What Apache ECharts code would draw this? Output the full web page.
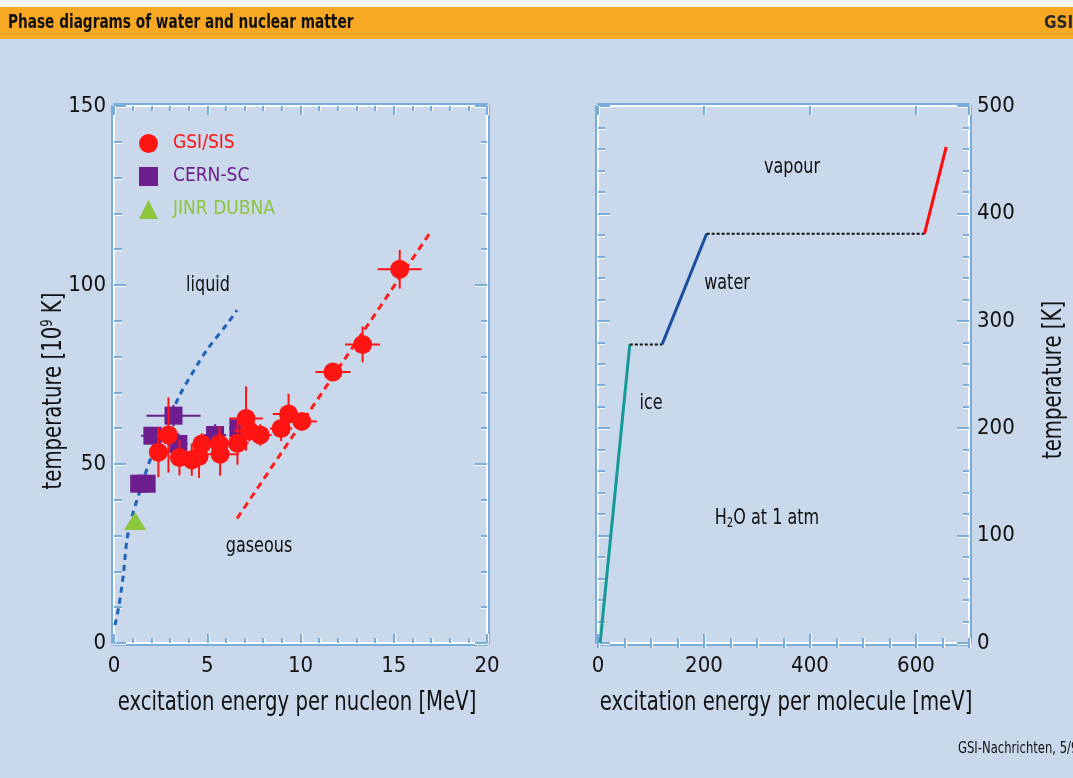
<!DOCTYPE html>
<html>
<head>
<meta charset="utf-8">
<title>Phase diagrams of water and nuclear matter</title>
<script src="https://cdn.jsdelivr.net/npm/echarts@6/dist/echarts.min.js"></script>
<style>
  html, body { margin: 0; padding: 0; background: #c9d8ea; }
  #chart { width: 1073px; height: 778px; }
</style>
</head>
<body>
<div id="chart"></div>
<script>
// ---- nuclear matter: excitation energy per nucleon [MeV] vs temperature [10^9 K]
// each point: [energy, temperature, energy error, temperature error]
const gsiSis = [
  [2.38, 53.3, 0.4, 7.0],
  [2.92, 58.1, 0.3, 10.5],
  [3.51, 51.8, 0.5, 5.0],
  [4.17, 51.2, 0.4, 4.5],
  [4.56, 52.1, 0.4, 6.0],
  [4.71, 55.6, 0.5, 3.0],
  [5.65, 55.6, 0.5, 5.0],
  [5.69, 52.7, 1.0, 6.0],
  [6.62, 55.8, 0.6, 6.0],
  [7.08, 62.7, 0.9, 9.0],
  [7.26, 59.3, 0.8, 3.0],
  [7.84, 58.1, 0.6, 3.0],
  [8.96, 59.9, 0.6, 3.5],
  [9.36, 64.0, 0.85, 5.6],
  [10.07, 61.9, 0.8, 2.0],
  [11.74, 75.7, 0.94, 2.0],
  [13.33, 83.4, 0.94, 5.0],
  [15.32, 104.4, 1.18, 5.4]
];
const cernSc = [
  [1.35, 44.5, 0, 2.0],
  [1.75, 44.5, 0, 2.0],
  [2.06, 57.9, 0.6, 2.0],
  [3.19, 63.5, 1.45, 3.0],
  [3.45, 55.6, 0.5, 3.0],
  [5.42, 58.1, 0.6, 3.0],
  [6.67, 60.0, 0.5, 3.0]
];
const jinrDubna = [
  [1.13, 34.1]
];
const liquidBoundary = [
  [0.05, 5], [0.25, 10], [0.5, 19], [0.7, 29], [1.0, 36], [1.3, 41],
  [2.0, 52], [3.0, 63], [3.5, 69], [4.5, 78], [5.0, 82], [6.15, 89.7], [6.6, 93]
];
const gaseousBoundary = [
  [6.6, 34.8], [17.0, 115]
];

// ---- water at 1 atm: excitation energy per molecule [meV] vs temperature [K]
const iceHeating = [[4, 0], [60, 278]];
const meltingPlateau = [[60, 278], [121, 278]];
const waterHeating = [[121, 278], [205, 381]];
const boilingPlateau = [[205, 381], [616, 381]];
const vapourHeating = [[616, 381], [657, 462]];

const FONT = '"Liberation Sans Narrow", "DejaVu Sans Condensed", "Noto Sans", sans-serif';
const NARROW = 0.81;            // horizontal squeeze for the condensed captions
const FRAME_WHITE = '#ffffff';
const FRAME_BLUE = '#78acd9';

// white frame line with a blue edge on its outer side
function frameLine(dx, dy) {
  return {
    show: true,
    onZero: false,
    lineStyle: { color: FRAME_WHITE, width: 2, shadowColor: FRAME_BLUE, shadowBlur: 0, shadowOffsetX: dx, shadowOffsetY: dy }
  };
}
function tickStyle(len, dx, dy) {
  return {
    show: true, inside: true, length: len,
    lineStyle: { color: FRAME_BLUE, width: 2, shadowColor: FRAME_WHITE, shadowBlur: 0, shadowOffsetX: dx, shadowOffsetY: dy }
  };
}
function minorStyle(split, len, dx, dy) {
  return {
    show: true, splitNumber: split, length: len,
    lineStyle: { color: FRAME_BLUE, width: 2, shadowColor: FRAME_WHITE, shadowBlur: 0, shadowOffsetX: dx, shadowOffsetY: dy }
  };
}
const labelStyle = { fontFamily: FONT, fontSize: 22, color: '#111' };

function errorBars(color) {
  return function (params, api) {
    const x = api.value(0), y = api.value(1), dx = api.value(2), dy = api.value(3);
    const children = [];
    if (dx > 0) {
      const a = api.coord([x - dx, y]), b = api.coord([x + dx, y]);
      children.push({ type: 'line', shape: { x1: a[0], y1: a[1], x2: b[0], y2: b[1] }, style: { stroke: color, lineWidth: 2 } });
    }
    if (dy > 0) {
      const a = api.coord([x, y - dy]), b = api.coord([x, y + dy]);
      children.push({ type: 'line', shape: { x1: a[0], y1: a[1], x2: b[0], y2: b[1] }, style: { stroke: color, lineWidth: 2 } });
    }
    return { type: 'group', children: children };
  };
}

// caption text squeezed horizontally to a condensed look
function caption(text, x, y, size, extra) {
  return Object.assign({
    type: 'text', x: x, y: y, scaleX: NARROW,
    style: { text: text, fontFamily: FONT, fontSize: size, fill: '#111', align: 'center', verticalAlign: 'middle' }
  }, extra || {});
}

const RED = '#ff1414';
const PURPLE = '#6c1d8e';
const GREEN = '#8cc63e';

const chart = echarts.init(document.getElementById('chart'), null, { renderer: 'canvas' });

function plotLine(data, color, width, dash, xi, yi, smooth) {
  return {
    type: 'line', data: data, xAxisIndex: xi, yAxisIndex: yi,
    showSymbol: false, symbol: 'none', smooth: smooth || false, silent: true,
    lineStyle: { color: color, width: width, type: dash || 'solid', cap: 'butt' },
    z: 2
  };
}

const supCaption = caption('temperature [10{sup|9} K]', 54, 391, 27, { rotation: Math.PI / 2 });
supCaption.style.rich = { sup: { fontFamily: FONT, fontSize: 16, fill: '#111', padding: [0, 0, 12, 0] } };
const h2oCaption = caption('H{sub|2}O at 1 atm', 767, 518, 22);
h2oCaption.style.rich = { sub: { fontFamily: FONT, fontSize: 14, fill: '#111', padding: [10, 0, 0, 0] } };

chart.setOption({
  backgroundColor: '#c9d8ea',
  animation: false,
  grid: [
    { left: 114, top: 106, width: 373, height: 537 },
    { left: 598, top: 106, width: 371, height: 537 }
  ],
  xAxis: [
    { // nucleon energy, bottom
      type: 'value', gridIndex: 0, position: 'bottom', min: 0, max: 20, interval: 5,
      axisLine: frameLine(0, 2), axisTick: tickStyle(9, 1, 0), minorTick: minorStyle(5, 5, 1, 0),
      axisLabel: Object.assign({ margin: 12 }, labelStyle), splitLine: { show: false }
    },
    { // nucleon energy, top
      type: 'value', gridIndex: 0, position: 'top', min: 0, max: 20, interval: 5,
      axisLine: frameLine(0, -2), axisTick: tickStyle(9, 1, 0), minorTick: minorStyle(5, 5, 1, 0),
      axisLabel: { show: false }, splitLine: { show: false }
    },
    { // molecule energy, bottom
      type: 'value', gridIndex: 1, position: 'bottom', min: 0, max: 700, interval: 200,
      axisLine: frameLine(0, 2), axisTick: tickStyle(9, 1, 0),
      axisLabel: Object.assign({ margin: 12, showMaxLabel: false }, labelStyle), splitLine: { show: false }
    },
    {
      type: 'value', gridIndex: 1, position: 'bottom', min: 0, max: 700, interval: 50,
      axisLine: { show: false }, axisTick: tickStyle(5, 1, 0),
      axisLabel: { show: false }, splitLine: { show: false }
    },
    { // molecule energy, top
      type: 'value', gridIndex: 1, position: 'top', min: 0, max: 700, interval: 200,
      axisLine: frameLine(0, -2), axisTick: tickStyle(9, 1, 0),
      axisLabel: { show: false }, splitLine: { show: false }
    },
    {
      type: 'value', gridIndex: 1, position: 'top', min: 0, max: 700, interval: 50,
      axisLine: { show: false }, axisTick: tickStyle(5, 1, 0),
      axisLabel: { show: false }, splitLine: { show: false }
    }
  ],
  yAxis: [
    { // nuclear temperature, left
      type: 'value', gridIndex: 0, position: 'left', min: 0, max: 150, interval: 50,
      axisLine: frameLine(-2, 0), axisTick: tickStyle(12, 0, 1), minorTick: minorStyle(5, 8, 0, 1),
      axisLabel: Object.assign({ margin: 8 }, labelStyle), splitLine: { show: false }
    },
    { // nuclear temperature, right
      type: 'value', gridIndex: 0, position: 'right', min: 0, max: 150, interval: 50,
      axisLine: frameLine(2, 0), axisTick: tickStyle(12, 0, 1), minorTick: minorStyle(5, 6, 0, 1),
      axisLabel: { show: false }, splitLine: { show: false }
    },
    { // water temperature, right (labelled)
      type: 'value', gridIndex: 1, position: 'right', min: 0, max: 500, interval: 100,
      axisLine: frameLine(2, 0), axisTick: tickStyle(12, 0, 1), minorTick: minorStyle(5, 6, 0, 1),
      axisLabel: Object.assign({ margin: 8 }, labelStyle), splitLine: { show: false }
    },
    { // water temperature, left
      type: 'value', gridIndex: 1, position: 'left', min: 0, max: 500, interval: 100,
      axisLine: frameLine(-2, 0), axisTick: tickStyle(12, 0, 1), minorTick: minorStyle(5, 7, 0, 1),
      axisLabel: { show: false }, splitLine: { show: false }
    }
  ],
  legend: {
    orient: 'vertical', left: 134, top: 129,
    itemWidth: 19, itemHeight: 19, itemGap: 14,
    selectedMode: false,
    itemStyle: { opacity: 1 },
    textStyle: { fontFamily: FONT, fontSize: 19, padding: [0, 0, 0, 10] },
    data: [
      { name: 'GSI/SIS', icon: 'circle', textStyle: { color: RED } },
      { name: 'CERN-SC', icon: 'rect', textStyle: { color: PURPLE } },
      { name: 'JINR DUBNA', icon: 'triangle', textStyle: { color: GREEN } }
    ]
  },
  series: [
    plotLine(liquidBoundary, '#1d63b8', 3, [6, 5], 0, 0, 0.3),
    plotLine(gaseousBoundary, '#ff1e1e', 3, [7, 5], 0, 0),
    {
      name: 'CERN-SC bars', type: 'custom', xAxisIndex: 0, yAxisIndex: 0,
      renderItem: errorBars(PURPLE), encode: { x: 0, y: 1 }, data: cernSc, z: 3, silent: true
    },
    {
      name: 'CERN-SC', type: 'scatter', xAxisIndex: 0, yAxisIndex: 0,
      symbol: 'rect', symbolSize: 18, itemStyle: { color: PURPLE, opacity: 1 },
      data: cernSc.map(p => [p[0], p[1]]), z: 4, silent: true
    },
    {
      name: 'GSI/SIS bars', type: 'custom', xAxisIndex: 0, yAxisIndex: 0,
      renderItem: errorBars(RED), encode: { x: 0, y: 1 }, data: gsiSis, z: 5, silent: true
    },
    {
      name: 'GSI/SIS', type: 'scatter', xAxisIndex: 0, yAxisIndex: 0,
      symbol: 'circle', symbolSize: 19, itemStyle: { color: RED, opacity: 1 },
      data: gsiSis.map(p => [p[0], p[1]]), z: 6, silent: true
    },
    {
      name: 'JINR DUBNA', type: 'scatter', xAxisIndex: 0, yAxisIndex: 0,
      symbol: 'triangle', symbolSize: [22, 18], itemStyle: { color: GREEN, opacity: 1 },
      data: jinrDubna, z: 6, silent: true
    },
    plotLine(iceHeating, '#149a98', 3, 'solid', 2, 2),
    plotLine(meltingPlateau, '#111111', 2, [3, 2], 2, 2),
    plotLine(waterHeating, '#1a4e9e', 3, 'solid', 2, 2),
    plotLine(boilingPlateau, '#111111', 2, [3, 2], 2, 2),
    plotLine(vapourHeating, '#ff0a0a', 3, 'solid', 2, 2)
  ],
  graphic: [
    // page header
    { type: 'rect', left: 0, top: 0, shape: { width: 1073, height: 7 }, style: { fill: '#f4f4f0' }, z: -10 },
    { type: 'rect', left: 0, top: 7, shape: { width: 1073, height: 32 }, style: { fill: '#f9a823' }, z: -10 },
    { type: 'text', x: 8, y: 23, scaleX: 0.8, style: { text: 'Phase diagrams of water and nuclear matter', fontFamily: FONT, fontWeight: 'bold', fontSize: 19, fill: '#111', verticalAlign: 'middle' } },
    { type: 'text', x: 1044, y: 24, style: { text: 'GSI', fontFamily: FONT, fontWeight: 'bold', fontSize: 17, fill: '#2a2a2a', verticalAlign: 'middle' } },
    // axis titles
    caption('excitation energy per nucleon [MeV]', 297, 703, 27),
    caption('excitation energy per molecule [meV]', 786, 703, 27),
    supCaption,
    caption('temperature [K]', 1054, 380, 27, { rotation: Math.PI / 2 }),
    // region annotations
    caption('liquid', 208, 285, 22),
    caption('gaseous', 259, 546, 22),
    caption('vapour', 792, 167, 22),
    caption('water', 727, 283, 22),
    caption('ice', 651, 403, 22),
    h2oCaption,
    // source note
    { type: 'text', x: 958, y: 749, scaleX: 0.86, style: { text: 'GSI-Nachrichten, 5/96', fontFamily: FONT, fontSize: 15, fill: '#111', verticalAlign: 'middle' } }
  ]
});
</script>
</body>
</html>
